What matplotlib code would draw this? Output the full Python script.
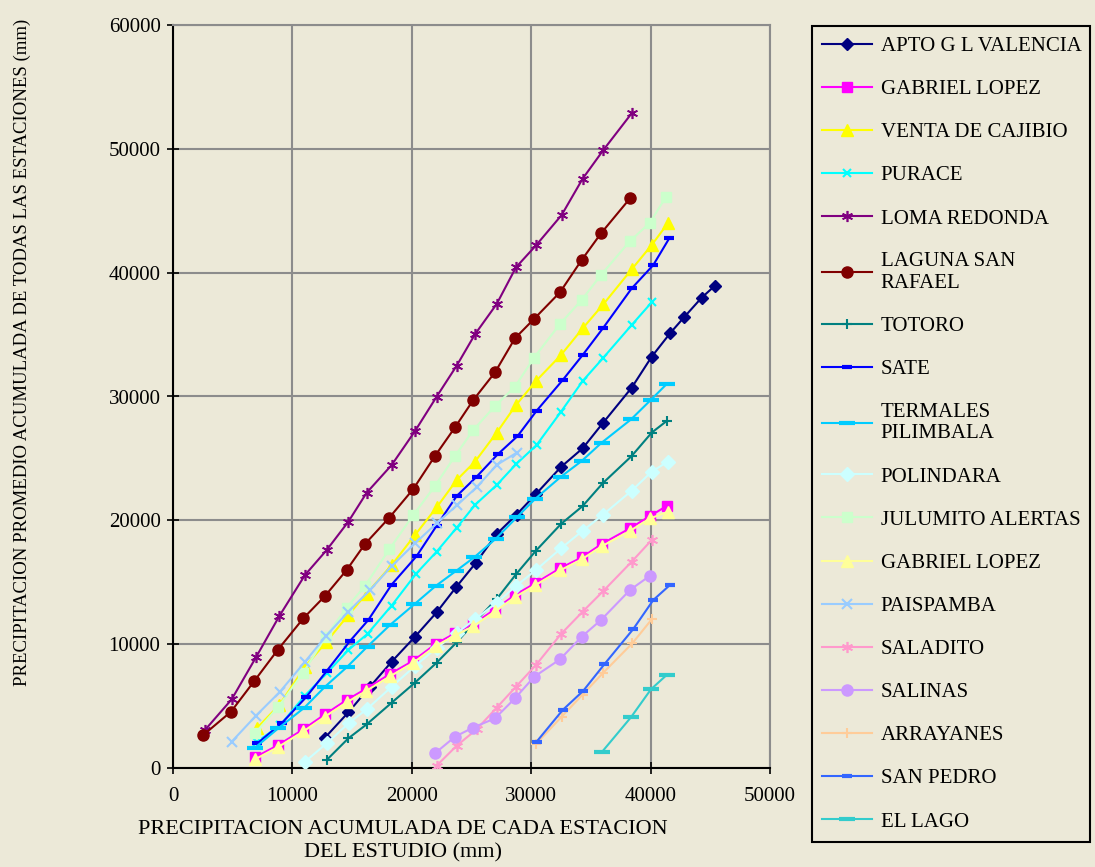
import matplotlib.pyplot as plt

bg = '#ECE9D8'

# series: (label, x, y)
apto_x = [12730, 14685, 16500, 18315, 20270, 22080, 23700, 25375, 27110, 28780, 30400, 32495, 34310, 35985, 38415, 40090, 41625, 42795, 44275, 45390]
apto_y = [2450, 4495, 6565, 8585, 10605, 12570, 14590, 16580, 18895, 20470, 22125, 24310, 25815, 27835, 30710, 33210, 35100, 36390, 37980, 38950]

gab_x = [6870, 8820, 10915, 12730, 14545, 16140, 18175, 20125, 22000, 23620, 25150, 26970, 28640, 30320, 32410, 34225, 35900, 38275, 39950, 41345]
gab_y = [860, 1860, 3125, 4335, 5490, 6380, 7590, 8665, 10015, 10875, 11630, 12815, 13970, 14910, 16125, 17000, 18090, 19355, 20350, 21155]

venta_x = [7010, 8905, 11055, 12815, 14685, 16220, 18315, 20270, 22080, 23760, 25290, 27110, 28725, 30400, 32495, 34310, 36040, 38415, 40090, 41480]
venta_y = [3200, 5090, 8180, 10150, 12355, 14090, 16390, 18815, 21050, 23255, 24735, 27080, 29310, 31250, 33350, 35505, 37445, 40270, 42230, 44035]

purace_x = [7010, 8960, 11055, 12870, 14685, 16290, 18315, 20350, 22080, 23760, 25290, 27110, 28725, 30455, 32495, 34310, 36040, 38415, 40090]
purace_y = [2100, 3450, 5850, 7650, 9530, 10830, 13120, 15680, 17470, 19400, 21240, 22850, 24525, 26085, 28770, 31250, 33130, 35775, 37605]

loma_x = [2680, 4915, 6950, 8905, 11055, 12870, 14685, 16220, 18315, 20270, 22080, 23760, 25290, 27110, 28725, 30400, 32550, 34310, 36040, 38415]
loma_y = [3070, 5545, 8940, 12270, 15585, 17600, 19890, 22230, 24470, 27210, 29985, 32490, 35020, 37470, 40430, 42200, 44655, 47590, 49900, 52870]

laguna_x = [2540, 4860, 6810, 8765, 10915, 12730, 14545, 16080, 18115, 20125, 21940, 23620, 25150, 26970, 28640, 30235, 32410, 34225, 35845, 38275]
laguna_y = [2665, 4550, 7025, 9530, 12085, 13890, 15990, 18090, 20215, 22530, 25195, 27510, 29715, 31950, 34700, 36260, 38415, 41020, 43175, 46000]

totoro_x = [12870, 14685, 16220, 18315, 20270, 22080, 23760, 25430, 27110, 28725, 30400, 32495, 34310, 35985, 38415, 40090, 41345]
totoro_y = [645, 2395, 3525, 5275, 6900, 8505, 10150, 11950, 13645, 15640, 17550, 19705, 21155, 22990, 25195, 27080, 28020]

sate_x = [7060, 9100, 11140, 12870, 14825, 16355, 18315, 20410, 22080, 23760, 25430, 27195, 28865, 30455, 32640, 34310, 36040, 38415, 40225, 41565]
sate_y = [1990, 3610, 5710, 7830, 10255, 11950, 14815, 17120, 19565, 21965, 23525, 25330, 26810, 28850, 31330, 33350, 35555, 38730, 40615, 42780]

termales_x = [6870, 8820, 11000, 12730, 14545, 16220, 18175, 20210, 22000, 23700, 25210, 27050, 28780, 30320, 32495, 34225, 35900, 38355, 40010, 41345]
termales_y = [1640, 3205, 4870, 6565, 8130, 9745, 11550, 13220, 14700, 15910, 17000, 18530, 20230, 21720, 23525, 24790, 26270, 28145, 29715, 31005]

polin_x = [11055, 12870, 14765, 16220, 18315, 20270, 22080, 23760, 25290, 27110, 28725, 30400, 32495, 34310, 35985, 38415, 40090, 41430]
polin_y = [510, 1990, 3660, 4740, 6565, 8235, 9700, 10900, 12005, 13350, 14700, 15990, 17740, 19160, 20430, 22395, 23930, 24735]

julu_x = [6870, 8820, 10915, 12785, 14545, 16080, 18115, 20125, 21940, 23620, 25150, 26970, 28640, 30235, 32410, 34225, 35845, 38275, 39950, 41290]
julu_y = [2800, 4950, 7700, 10605, 12945, 14700, 17660, 20430, 22770, 25195, 27295, 29230, 30790, 33130, 35855, 37790, 39810, 42555, 44035, 46135]

gab2_x = [6870, 8820, 10915, 12730, 14545, 16140, 18175, 20125, 22000, 23620, 25150, 26970, 28640, 30320, 32410, 34225, 35900, 38275, 39950, 41480]
gab2_y = [700, 1700, 2950, 4150, 5300, 6200, 7400, 8500, 9850, 10700, 11450, 12650, 13800, 14750, 15950, 16850, 17900, 19150, 20150, 20700]

pais_x = [4915, 6950, 8960, 11055, 12815, 14685, 16500, 18315, 20270, 22080, 23760, 25430, 27110, 28780]
pais_y = [2125, 4225, 6160, 8580, 10660, 12625, 14375, 16310, 18145, 19760, 21200, 22670, 24470, 25460]

saladito_x = [22080, 23760, 25430, 27110, 28725, 30400, 32495, 34310, 36040, 38415, 40090]
saladito_y = [190, 1800, 3125, 4870, 6565, 8320, 10820, 12625, 14295, 16660, 18410]

salinas_x = [21940, 23620, 25150, 26970, 28640, 30260, 32410, 34225, 35845, 38275, 39950]
salinas_y = [1185, 2530, 3270, 4010, 5625, 7375, 8775, 10600, 11950, 14375, 15530]

arra_x = [30400, 32550, 34310, 36040, 38470, 40090]
arra_y = [1940, 4145, 5935, 7700, 10070, 12000]

sanpedro_x = [30455, 32640, 34365, 36125, 38550, 40225, 41625]
sanpedro_y = [2125, 4685, 6240, 8375, 11225, 13565, 14780]

lago_x = [35900, 38355, 40030, 41345]
lago_y = [1265, 4095, 6355, 7510]

plt.rcParams['font.family'] = ['Liberation Serif', 'DejaVu Serif']

fig = plt.figure(figsize=(10.95, 8.67), dpi=100, facecolor=bg)
ax = fig.add_axes([173/1095, 1-768/867, 597/1095, 743/867])
ax.set_facecolor(bg)

ast = (6, 2, 0)
series = [
    ('APTO G L VALENCIA', apto_x, apto_y, '#000080', 'D', 6, 1),
    ('GABRIEL LOPEZ', gab_x, gab_y, '#FF00FF', 's', 7, 1),
    ('VENTA DE CAJIBIO', venta_x, venta_y, '#FFFF00', '^', 8, 1),
    ('PURACE', purace_x, purace_y, '#00FFFF', 'x', 6, 1.5),
    ('LOMA REDONDA', loma_x, loma_y, '#800080', ast, 8, 1.2),
    ('LAGUNA SAN\nRAFAEL', laguna_x, laguna_y, '#800000', 'o', 8, 1),
    ('TOTORO', totoro_x, totoro_y, '#008080', '+', 7, 1.5),
    ('SATE', sate_x, sate_y, '#0000FF', '_', 7, 3),
    ('TERMALES\nPILIMBALA', termales_x, termales_y, '#00CCFF', '_', 11, 3),
    ('POLINDARA', polin_x, polin_y, '#CCFFFF', 'D', 7, 1),
    ('JULUMITO ALERTAS', julu_x, julu_y, '#CCFFCC', 's', 7, 1),
    ('GABRIEL LOPEZ', gab2_x, gab2_y, '#FFFF99', '^', 8, 1),
    ('PAISPAMBA', pais_x, pais_y, '#99CCFF', 'x', 7, 1.5),
    ('SALADITO', saladito_x, saladito_y, '#FF99CC', ast, 8, 1.2),
    ('SALINAS', salinas_x, salinas_y, '#CC99FF', 'o', 8, 1),
    ('ARRAYANES', arra_x, arra_y, '#FFCC99', '+', 7, 1.5),
    ('SAN PEDRO', sanpedro_x, sanpedro_y, '#3366FF', '_', 7, 3),
    ('EL LAGO', lago_x, lago_y, '#33CCCC', '_', 11, 3),
]

for lab, xs, ys, c, m, ms, mew in series:
    ax.plot(xs, ys, color=c, lw=1.5, marker=m, ms=ms, mew=mew,
            mfc=c, mec=c, label=lab, zorder=3)

ax.set_xlim(0, 50000)
ax.set_ylim(0, 60000)
ax.set_xticks(range(0, 50001, 10000))
ax.set_yticks(range(0, 60001, 10000))
ax.grid(True, color='#8C8C8C', lw=1.5, zorder=0)
ax.tick_params(direction='inout', length=8, width=1.2, labelsize=15, colors='black')
ax.tick_params(axis='x', pad=10)
ax.tick_params(axis='y', pad=5)
for s in ['left', 'bottom']:
    ax.spines[s].set_color('black')
    ax.spines[s].set_linewidth(1.5)
for s in ['top', 'right']:
    ax.spines[s].set_color('#8C8C8C')
    ax.spines[s].set_linewidth(1.5)

ax.set_xlabel('PRECIPITACION ACUMULADA DE CADA ESTACION\nDEL ESTUDIO (mm)', fontsize=16, linespacing=1.3)
ax.xaxis.set_label_coords(0.385, -0.07)
ax.set_ylabel('PRECIPITACION PROMEDIO ACUMULADA DE TODAS LAS ESTACIONES (mm)', fontsize=13.5)
ax.yaxis.set_label_coords(-0.238, 0.56)

leg = fig.legend(loc='upper left', bbox_to_anchor=(812/1095, 1-26/867, 278/1095, 0),
                 mode='expand', fontsize=15, frameon=True, fancybox=False,
                 edgecolor='black', facecolor=bg, framealpha=1,
                 handlelength=2.4, handletextpad=0.4, labelspacing=1.13,
                 borderpad=0.5, borderaxespad=0)
leg.get_frame().set_linewidth(1.5)

plt.savefig('out.png', dpi=100, facecolor=bg)
